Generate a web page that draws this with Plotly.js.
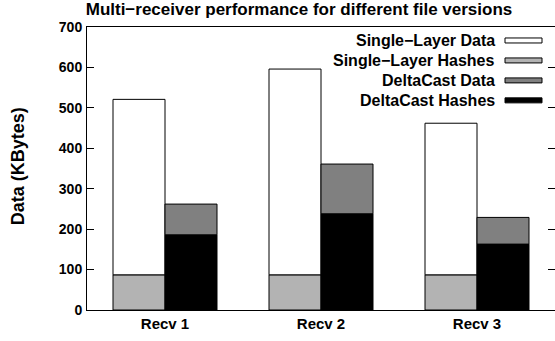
<!DOCTYPE html>
<html>
<head>
<meta charset="utf-8">
<script src="https://cdn.plot.ly/plotly-3.0.1.min.js"></script>
<style>html,body{margin:0;padding:0;background:#fff;}#chart{width:555px;height:341px;}</style>
</head>
<body>
<div id="chart"></div>
<script>
const categories = ["Recv 1", "Recv 2", "Recv 3"];
const singleLayerTotal = [521, 596, 462];
const singleLayerHashes = [87, 87, 87];
const deltaCastTotal = [262, 361, 229];
const deltaCastHashes = [186, 238, 163];
const legendNames = ["Single−Layer Data", "Single−Layer Hashes", "DeltaCast Data", "DeltaCast Hashes"];
const legendColors = ["#ffffff", "#b3b3b3", "#808080", "#000000"];

const FONT = "Liberation Sans, Arial, Helvetica, sans-serif";
const xs = categories.map((_, i) => i);
const W = 1 / 3;
const line = {color: "#000", width: 1};

const diff = (a, b) => a.map((v, i) => v - b[i]);

const traces = [
  {type: "bar", x: xs, y: singleLayerHashes, base: 0, offset: -W, width: W,
   marker: {color: legendColors[1], line: line}, name: legendNames[1]},
  {type: "bar", x: xs, y: diff(singleLayerTotal, singleLayerHashes), base: singleLayerHashes, offset: -W, width: W,
   marker: {color: legendColors[0], line: line}, name: legendNames[0]},
  {type: "bar", x: xs, y: deltaCastHashes, base: 0, offset: 0, width: W,
   marker: {color: legendColors[3], line: line}, name: legendNames[3]},
  {type: "bar", x: xs, y: diff(deltaCastTotal, deltaCastHashes), base: deltaCastHashes, offset: 0, width: W,
   marker: {color: legendColors[2], line: line}, name: legendNames[2]}
];

// custom legend (text right, swatch on the right like gnuplot)
const L = 87, R = 555, T = 27, B = 310.5;
const px = v => (v - L) / (R - L);
const py = v => (B - v) / (B - T);
const annotations = [];
const shapes = [];
legendNames.forEach((n, i) => {
  const yc = 40.5 + 20 * i;
  annotations.push({xref: "paper", yref: "paper", x: px(496), y: py(yc), xanchor: "right", yanchor: "middle",
    text: "<b>" + n + "</b>", showarrow: false, borderpad: 0, font: {family: FONT, size: 16, color: "#000"}});
  shapes.push({type: "rect", xref: "paper", yref: "paper", x0: px(505), x1: px(542), y0: py(yc - 2.5), y1: py(yc + 2.5),
    fillcolor: legendColors[i], line: {color: "#000", width: 1}});
});
annotations.push({xref: "paper", yref: "paper", x: px(18), y: py(166.5), xanchor: "center", yanchor: "middle",
  textangle: -90, text: "<b>Data (KBytes)</b>", showarrow: false, font: {family: FONT, size: 18, color: "#000"}});

const layout = {
  width: 555, height: 341,
  margin: {l: L, r: 555 - R, t: T, b: 341 - B},
  paper_bgcolor: "#fff", plot_bgcolor: "#fff",
  barmode: "overlay",
  showlegend: false,
  title: {text: "<b>Multi−receiver performance for different file versions</b>", xref: "container", yref: "container",
    x: 299 / 555, xanchor: "center", y: 1 - 9 / 341, yanchor: "middle", font: {family: FONT, size: 17, color: "#000"}},
  xaxis: {range: [-0.5, 2.5], tickvals: xs, ticktext: categories.map(c => "<b>" + c + "</b>"),
    showline: true, linecolor: "#000", linewidth: 1, mirror: true, ticks: "", showgrid: false, zeroline: false,
    tickfont: {family: FONT, size: 15, color: "#000"}, fixedrange: true},
  yaxis: {range: [0, 700], dtick: 100, tickformat: "d",
    showline: true, linecolor: "#000", linewidth: 1, mirror: "ticks", ticks: "inside", ticklen: 7, tickcolor: "#000",
    showgrid: false, zeroline: false, tickfont: {family: FONT, size: 14, color: "#000", weight: "bold"}, ticklabelstandoff: 1},
  annotations: annotations,
  shapes: shapes
};

Plotly.newPlot("chart", traces, layout, {staticPlot: true, displayModeBar: false});
</script>
</body>
</html>
